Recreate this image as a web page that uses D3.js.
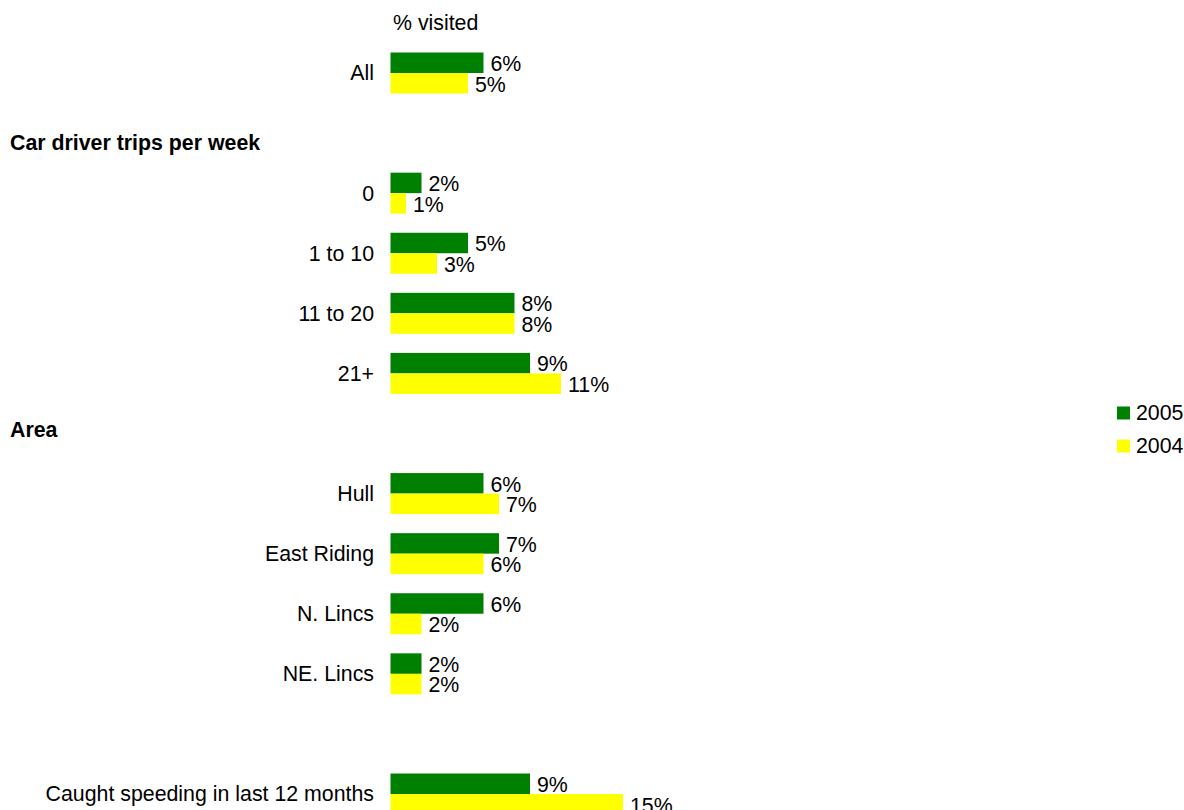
<!DOCTYPE html>
<html>
<head>
<meta charset="utf-8">
<script src="https://cdn.jsdelivr.net/npm/d3@7"></script>
<style>
  body { margin: 0; background: #fff; }
  text { font-family: Arial, "Liberation Sans", sans-serif; font-size: 21.33px; fill: #000; }
</style>
</head>
<body>
<div id="chart"></div>
<script>
// rows top to bottom, blank keys are spacer / header slots
var rows = ["All", "_h1", "0", "1 to 10", "11 to 20", "21+", "_h2",
            "Hull", "East Riding", "N. Lincs", "NE. Lincs", "_gap",
            "Caught speeding in last 12 months"];
var categories = ["All", "0", "1 to 10", "11 to 20", "21+",
                  "Hull", "East Riding", "N. Lincs", "NE. Lincs",
                  "Caught speeding in last 12 months"];
var values2005 = [6, 2, 5, 8, 9, 6, 7, 6, 2, 9];
var values2004 = [5, 1, 3, 8, 11, 7, 6, 2, 2, 15];
var headers = [{slot: "_h1", text: "Car driver trips per week", dy: 9},
               {slot: "_h2", text: "Area", dy: -4}];
var series = ["2005", "2004"];
var colors = ["#008000", "#ffff00"];

var width = 1184, height = 810;

var svg = d3.select("#chart").append("svg")
    .attr("width", width)
    .attr("height", height);

var y = d3.scalePoint().domain(rows).range([73, 794]);
var x = d3.scaleLinear().domain([0, 15]).range([390.5, 623]);
var barH = 20.5;

var data = categories.map(function(c, i) {
  return {cat: c, v: [values2005[i], values2004[i]]};
});

svg.append("text")
    .attr("x", 393).attr("y", 30)
    .text("% visited");

headers.forEach(function(h) {
  svg.append("text")
      .attr("x", 10)
      .attr("y", y(h.slot) + h.dy)
      .attr("dy", "0.35em")
      .style("font-weight", "bold")
      .text(h.text);
});

var g = svg.selectAll("g.row")
    .data(data)
  .enter().append("g")
    .attr("class", "row");

g.append("text")
    .attr("x", 374)
    .attr("y", function(d) { return y(d.cat); })
    .attr("dy", "0.35em")
    .attr("text-anchor", "end")
    .text(function(d) { return d.cat; });

series.forEach(function(s, k) {
  g.append("rect")
      .attr("x", x(0))
      .attr("y", function(d) { return k === 0 ? y(d.cat) - barH : y(d.cat); })
      .attr("width", function(d) { return x(d.v[k]) - x(0); })
      .attr("height", barH)
      .attr("fill", colors[k]);

  g.append("text")
      .attr("x", function(d) { return x(d.v[k]) + 7; })
      .attr("y", function(d) { return k === 0 ? y(d.cat) - 2 : y(d.cat) + 18.5; })
      .text(function(d) { return d.v[k] + "%"; });
});

// legend
var leg = svg.selectAll("g.legend")
    .data(series)
  .enter().append("g")
    .attr("class", "legend")
    .attr("transform", function(d, i) { return "translate(1117," + (413 + i * 33) + ")"; });

leg.append("rect")
    .attr("x", 0).attr("y", -6.5)
    .attr("width", 13).attr("height", 13)
    .attr("fill", function(d, i) { return colors[i]; });

leg.append("text")
    .attr("x", 19).attr("y", 0)
    .attr("dy", "0.35em")
    .text(function(d) { return d; });
</script>
</body>
</html>
